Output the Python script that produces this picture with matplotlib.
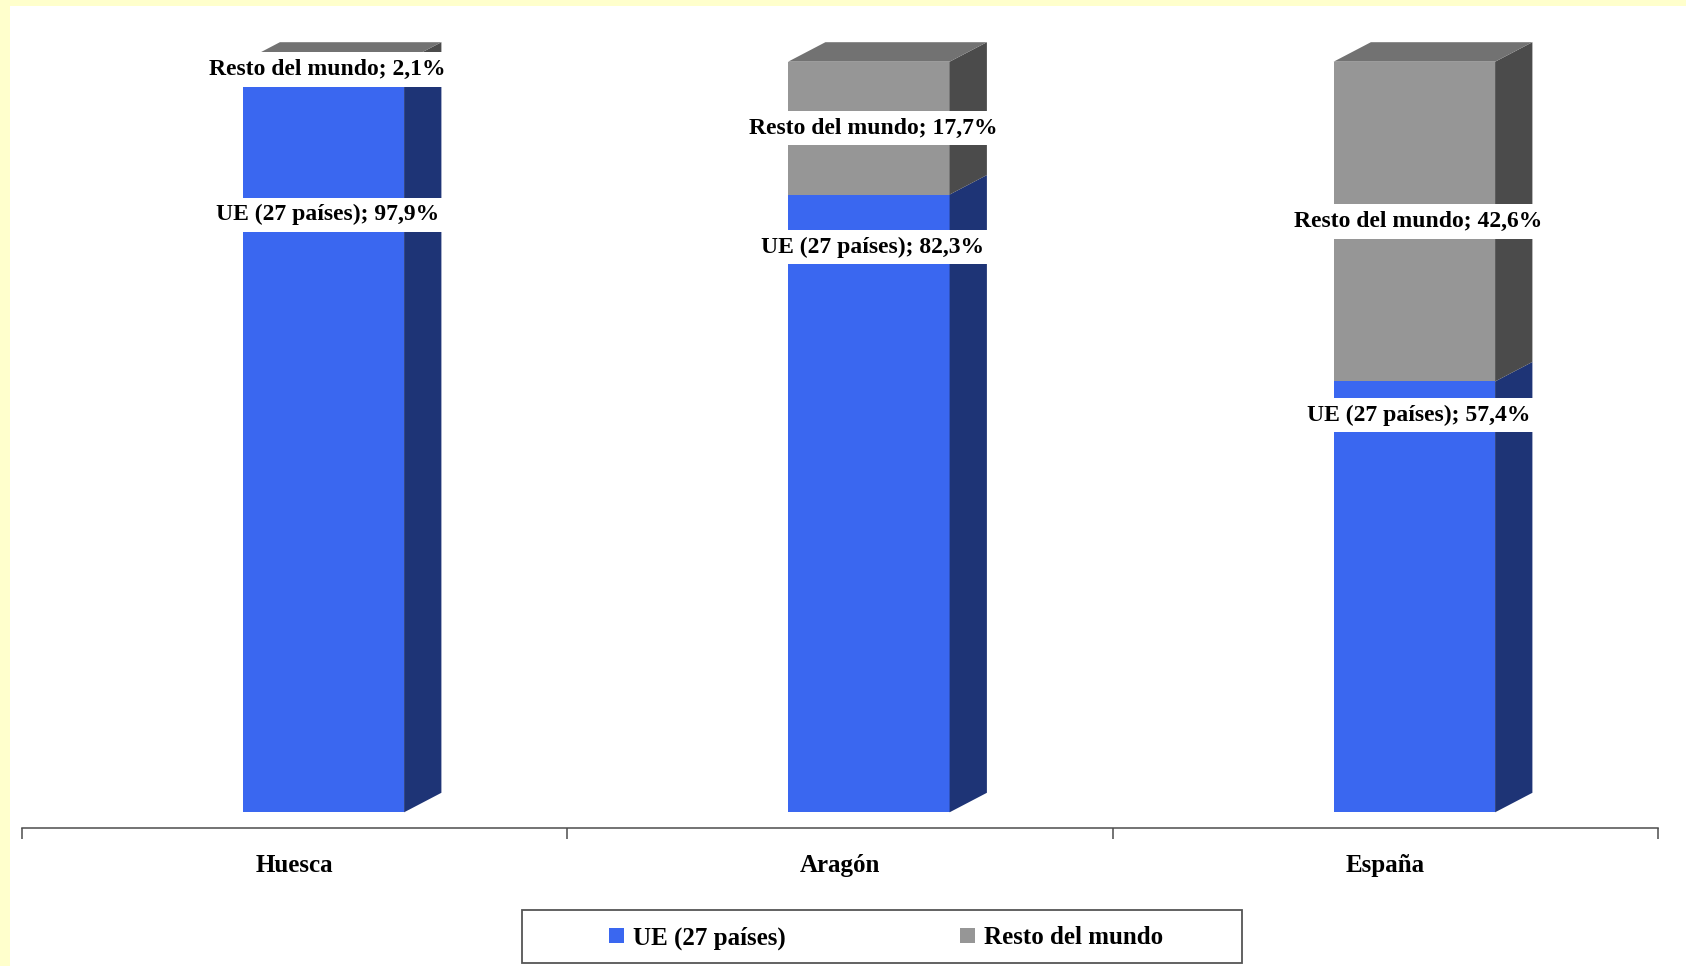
import matplotlib
matplotlib.use("Agg")
import matplotlib.pyplot as plt
from matplotlib.patches import Polygon, Rectangle
from matplotlib.font_manager import FontProperties
import numpy as np

# ---------------- data ----------------
categories = ["Huesca", "Aragón", "España"]
series_names = ["UE (27 países)", "Resto del mundo"]
ue_values = [97.9, 82.3, 57.4]
resto_values = [2.1, 17.7, 42.6]

# ---------------- layout / style ----------------
ue_label_y = [79.6, 75.3, 52.9]          # where the UE data labels sit
blue_front, blue_side, blue_top = "#3A67F0", "#1E3476", "#2C4FB8"
grey_front, grey_side, grey_top = "#969696", "#4B4B4B", "#727272"

plt.rcParams["font.family"] = ["Liberation Serif", "DejaVu Serif"]

W, H, DPI = 1686, 966, 100
fig = plt.figure(figsize=(W / DPI, H / DPI), dpi=DPI, facecolor="#FFFFCC")
fig.add_artist(Rectangle((10 / W, 0), 1, 1 - 6 / H, transform=fig.transFigure,
                         facecolor="white", edgecolor="none", zorder=-10))

ax_l, ax_r, ax_b, ax_t = 21.5, 1658.0, 812.3, 61.7
ax = fig.add_axes([ax_l / W, (H - ax_b) / H, (ax_r - ax_l) / W, (ax_b - ax_t) / H])
ax.set_facecolor("none")
ax.set_xlim(-0.5, 2.5)
ax.set_ylim(0, 100)

px_per_x = (ax_r - ax_l) / 3.0
px_per_y = (ax_b - ax_t) / 100.0
depth_dx = 37.3 / px_per_x
depth_dy = 19.5 / px_per_y

x = np.arange(len(categories))
shift = 29.1 / px_per_x
bar_w = 161.5 / px_per_x
xc = x + shift

ue = np.array(ue_values)
resto = np.array(resto_values)

b_ue = ax.bar(xc, ue, width=bar_w, color=blue_front, zorder=2, linewidth=0)
b_re = ax.bar(xc, resto, bottom=ue, width=bar_w, color=grey_front, zorder=2, linewidth=0)


def side(xr, y0, y1, color):
    ax.add_patch(Polygon([(xr, y0), (xr + depth_dx, y0 + depth_dy),
                          (xr + depth_dx, y1 + depth_dy), (xr, y1)],
                         closed=True, facecolor=color, edgecolor="none",
                         zorder=2, clip_on=False))


for i in range(len(categories)):
    xl = xc[i] - bar_w / 2
    xr = xc[i] + bar_w / 2
    side(xr, 0, ue[i], blue_side)
    side(xr, ue[i], ue[i] + resto[i], grey_side)
    top = ue[i] + resto[i]
    ax.add_patch(Polygon([(xl, top), (xr, top), (xr + depth_dx, top + depth_dy),
                          (xl + depth_dx, top + depth_dy)], closed=True,
                         facecolor=grey_top, edgecolor="none", zorder=2, clip_on=False))

lab_font = dict(fontsize=17, fontweight="bold", color="black")
box = dict(boxstyle="square,pad=0.28", facecolor="white", edgecolor="none")
lab_dx = 4 / px_per_x


def fmt(v):
    return f"{v:.1f}%".replace(".", ",")


for i in range(len(categories)):
    ax.text(xc[i] + lab_dx, ue_label_y[i], f"{series_names[0]}; {fmt(ue[i])}",
            ha="center", va="center", bbox=box, zorder=5, **lab_font)
    ax.text(xc[i] + lab_dx, ue[i] + resto[i] / 2, f"{series_names[1]}; {fmt(resto[i])}",
            ha="center", va="center", bbox=box, zorder=5, **lab_font)

# axes styling
for s in ["left", "right", "top"]:
    ax.spines[s].set_visible(False)
ax.spines["bottom"].set_position(("outward", 15.4 * 0.72))
ax.spines["bottom"].set_color("#4D4D4D")
ax.spines["bottom"].set_linewidth(1.1)
ax.set_yticks([])
ax.set_xticks(x)
ax.set_xticklabels(categories, fontsize=18, fontweight="bold")
ax.set_xticks([-0.5, 0.5, 1.5, 2.5], minor=True)
ax.tick_params(axis="x", which="major", length=0, pad=18.6)
ax.tick_params(axis="x", which="minor", length=11 * 0.72, width=1.1,
               color="#4D4D4D", direction="out")

# legend
fp = FontProperties(family="Liberation Serif", weight="bold", size=18)
fig.legend(handles=[b_ue, b_re], labels=series_names, ncol=2, frameon=False,
           loc="center", bbox_to_anchor=(886 / W, 1 - 938 / H), prop=fp,
           handlelength=0.6, handleheight=0.58, handletextpad=0.35,
           columnspacing=7.0)
fig.add_artist(Rectangle((521.7 / W, 1 - 963.3 / H), (1242 - 521.7) / W,
                         (963.3 - 910) / H, transform=fig.transFigure,
                         facecolor="none", edgecolor="#555555", linewidth=1.3))

fig.savefig("out.png", dpi=DPI, facecolor=fig.get_facecolor())
